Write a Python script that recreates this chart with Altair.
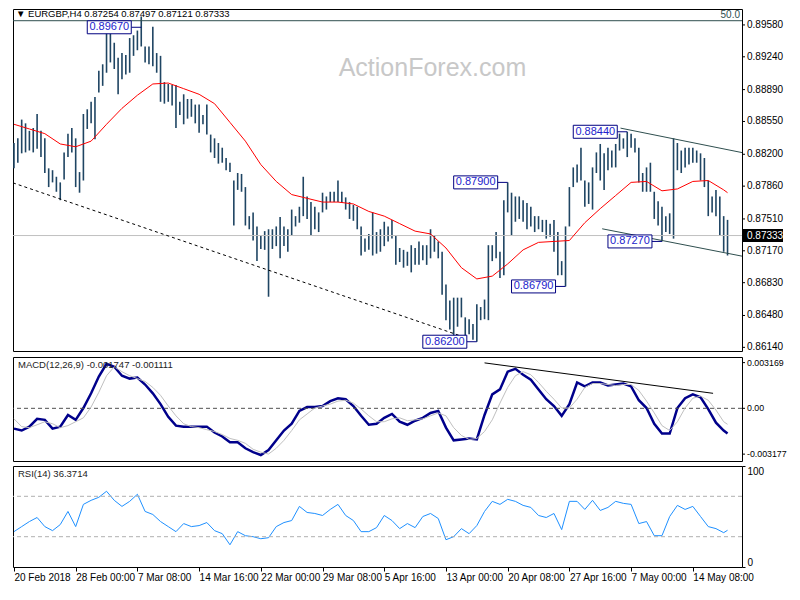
import altair as alt
import pandas as pd

F = "Liberation Sans"

# ---------------- price bars (H4, one bar drawn per 8 hours) ----------------
bar_high = [0.8832, 0.8837, 0.8857, 0.8853, 0.8845, 0.8848, 0.8863, 0.8845, 0.8837, 0.8805,
            0.8803, 0.8796, 0.8790, 0.8822, 0.8842, 0.8848, 0.8837, 0.8801, 0.8863, 0.8868,
            0.8876, 0.8881, 0.8909, 0.8916, 0.8951, 0.8949, 0.8939, 0.8923, 0.8928, 0.8926,
            0.8944, 0.8947, 0.8952, 0.8967, 0.8935, 0.8935, 0.8956, 0.8928, 0.8925, 0.8897,
            0.8895, 0.8894, 0.8894, 0.8876, 0.8884, 0.8879, 0.8879, 0.8873, 0.8873, 0.8862,
            0.8873, 0.8841, 0.8837, 0.8832, 0.8827, 0.8816, 0.8811, 0.8792, 0.8800, 0.8799,
            0.8785, 0.8754, 0.8758, 0.8743, 0.8733, 0.8738, 0.8740, 0.8740, 0.8743, 0.8753,
            0.8743, 0.8740, 0.8761, 0.8754, 0.8764, 0.8796, 0.8775, 0.8769, 0.8764, 0.8758,
            0.8779, 0.8775, 0.8780, 0.8780, 0.8792, 0.8780, 0.8774, 0.8769, 0.8766, 0.8764,
            0.8743, 0.8730, 0.8735, 0.8758, 0.8737, 0.8740, 0.8748, 0.8743, 0.8750, 0.8733,
            0.8720, 0.8718, 0.8716, 0.8723, 0.8720, 0.8727, 0.8723, 0.8723, 0.8740, 0.8733,
            0.8727, 0.8716, 0.8681, 0.8664, 0.8667, 0.8667, 0.8667, 0.8646, 0.8644, 0.8639,
            0.8660, 0.8657, 0.8665, 0.8723, 0.8723, 0.8737, 0.8716, 0.8771, 0.8790, 0.8779,
            0.8775, 0.8775, 0.8771, 0.8768, 0.8764, 0.8754, 0.8754, 0.8750, 0.8750, 0.8746,
            0.8750, 0.8737, 0.8706, 0.8743, 0.8785, 0.8806, 0.8809, 0.8827, 0.8792, 0.8790,
            0.8806, 0.8822, 0.8831, 0.8821, 0.8827, 0.8824, 0.8831, 0.8842, 0.8837, 0.8844,
            0.8842, 0.8837, 0.8827, 0.8800, 0.8806, 0.8811, 0.8780, 0.8770, 0.8764, 0.8754,
            0.8757, 0.8837, 0.8832, 0.8824, 0.8827, 0.8827, 0.8827, 0.8824, 0.8821, 0.8816,
            0.8792, 0.8775, 0.8782, 0.8775, 0.8754, 0.8750]
bar_low = [0.8805, 0.8811, 0.8821, 0.8822, 0.8824, 0.8822, 0.8826, 0.8817, 0.8800, 0.8785,
           0.8790, 0.8780, 0.8771, 0.8793, 0.8817, 0.8822, 0.8785, 0.8779, 0.8792, 0.8847,
           0.8853, 0.8836, 0.8886, 0.8893, 0.8907, 0.8918, 0.8911, 0.8884, 0.8900, 0.8905,
           0.8907, 0.8925, 0.8931, 0.8935, 0.8918, 0.8916, 0.8914, 0.8907, 0.8876, 0.8874,
           0.8876, 0.8872, 0.8848, 0.8862, 0.8852, 0.8858, 0.8860, 0.8853, 0.8843, 0.8852,
           0.8841, 0.8822, 0.8816, 0.8810, 0.8811, 0.8803, 0.8801, 0.8744, 0.8782, 0.8780,
           0.8744, 0.8740, 0.8728, 0.8706, 0.8719, 0.8718, 0.8668, 0.8719, 0.8722, 0.8709,
           0.8722, 0.8716, 0.8733, 0.8743, 0.8747, 0.8754, 0.8751, 0.8733, 0.8740, 0.8737,
           0.8758, 0.8761, 0.8769, 0.8769, 0.8769, 0.8768, 0.8761, 0.8751, 0.8749, 0.8740,
           0.8712, 0.8716, 0.8718, 0.8712, 0.8714, 0.8716, 0.8722, 0.8727, 0.8730, 0.8702,
           0.8705, 0.8699, 0.8701, 0.8694, 0.8702, 0.8702, 0.8707, 0.8702, 0.8709, 0.8716,
           0.8709, 0.8670, 0.8643, 0.8633, 0.8626, 0.8636, 0.8646, 0.8622, 0.8628, 0.8622,
           0.8620, 0.8643, 0.8644, 0.8643, 0.8706, 0.8709, 0.8688, 0.8691, 0.8758, 0.8733,
           0.8748, 0.8751, 0.8748, 0.8740, 0.8743, 0.8737, 0.8740, 0.8737, 0.8730, 0.8732,
           0.8716, 0.8691, 0.8691, 0.8679, 0.8743, 0.8785, 0.8790, 0.8792, 0.8764, 0.8767,
           0.8761, 0.8800, 0.8792, 0.8782, 0.8803, 0.8806, 0.8806, 0.8824, 0.8826, 0.8817,
           0.8827, 0.8822, 0.8790, 0.8780, 0.8780, 0.8780, 0.8751, 0.8744, 0.8727, 0.8737,
           0.8735, 0.8730, 0.8803, 0.8800, 0.8806, 0.8809, 0.8811, 0.8811, 0.8792, 0.8785,
           0.8754, 0.8758, 0.8754, 0.8733, 0.8716, 0.8712]
bar_k = list(range(len(bar_high)))

# moving average (red), one point every 4 drawn bars
ma_k = list(range(0, 185, 4)) + [185]
ma_val = [0.8852, 0.8847, 0.8842, 0.8831, 0.8828, 0.8834, 0.8852, 0.8869, 0.8883, 0.8895,
          0.8896, 0.8890, 0.8884, 0.8874, 0.8854, 0.8834, 0.8809, 0.8791, 0.8777, 0.8773,
          0.8769, 0.8769, 0.8767, 0.8759, 0.8754, 0.8746, 0.8738, 0.8735, 0.8720, 0.8699,
          0.8687, 0.8690, 0.8703, 0.8718, 0.8726, 0.8727, 0.8728, 0.8747, 0.8762, 0.8776,
          0.8790, 0.8791, 0.8781, 0.8783, 0.8791, 0.8792, 0.8782, 0.8779]

# indicators, one point every 2 drawn bars
ind_k = list(range(0, 185, 2)) + [185]
macd_val = [-0.00141, -0.00154, -0.00127, -0.00073, -0.00080, -0.00141, -0.00127, -0.00046, -0.00080, 0.00002,
            0.00104, 0.00220, 0.00308, 0.00288, 0.00226, 0.00206, 0.00213, 0.00165, 0.00104, 0.00029,
            -0.00059, -0.00120, -0.00127, -0.00127, -0.00127, -0.00127, -0.00168, -0.00195, -0.00236, -0.00236,
            -0.00277, -0.00304, -0.00324, -0.00290, -0.00222, -0.00154, -0.00107, -0.00018, 0.00009, 0.00009,
            0.00016, 0.00050, 0.00070, 0.00063, 0.00016, -0.00052, -0.00114, -0.00107, -0.00066, -0.00039,
            -0.00093, -0.00114, -0.00086, -0.00066, -0.00032, -0.00018, -0.00134, -0.00222, -0.00216, -0.00209,
            -0.00216, -0.00046, 0.00097, 0.00131, 0.00254, 0.00274, 0.00233, 0.00199, 0.00131, 0.00063,
            0.00016, -0.00052, 0.00029, 0.00179, 0.00152, 0.00179, 0.00179, 0.00158, 0.00165, 0.00172,
            0.00152, 0.00056, 0.00002, -0.00107, -0.00175, -0.00175, 0.00002, 0.00070, 0.00097, 0.00077,
            -0.00005, -0.00100, -0.00154, -0.00175]
signal_val = [-0.00073, -0.00127, -0.00134, -0.00114, -0.00093, -0.00107, -0.00134, -0.00120, -0.00093, -0.00066,
              0.00009, 0.00111, 0.00226, 0.00288, 0.00254, 0.00226, 0.00206, 0.00186, 0.00145, 0.00090,
              0.00016, -0.00052, -0.00107, -0.00127, -0.00134, -0.00148, -0.00161, -0.00182, -0.00209, -0.00222,
              -0.00243, -0.00284, -0.00304, -0.00317, -0.00277, -0.00222, -0.00154, -0.00080, -0.00039, 0.00002,
              0.00016, 0.00029, 0.00050, 0.00056, 0.00036, -0.00005, -0.00052, -0.00093, -0.00093, -0.00073,
              -0.00066, -0.00086, -0.00080, -0.00073, -0.00052, -0.00032, -0.00052, -0.00134, -0.00188, -0.00216,
              -0.00209, -0.00161, -0.00080, 0.00036, 0.00145, 0.00226, 0.00254, 0.00233, 0.00179, 0.00118,
              0.00063, 0.00002, 0.00002, 0.00063, 0.00145, 0.00172, 0.00172, 0.00165, 0.00158, 0.00165,
              0.00165, 0.00124, 0.00050, -0.00032, -0.00120, -0.00154, -0.00093, 0.00002, 0.00070, 0.00084,
              0.00056, -0.00012, -0.00093, -0.00111]
rsi_val = [35, 40, 45, 49, 40, 36, 42, 55, 40, 62,
           66, 69, 75, 66, 60, 65, 72, 55, 52, 45,
           40, 35, 43, 40, 41, 44, 36, 33, 22, 35,
           31, 30, 28, 29, 40, 44, 46, 60, 54, 53,
           51, 57, 62, 51, 46, 35, 35, 39, 51, 46,
           38, 43, 39, 50, 53, 48, 27, 30, 38, 33,
           41, 55, 65, 62, 67, 65, 61, 59, 51, 49,
           53, 37, 65, 65, 57, 66, 56, 59, 65, 63,
           62, 43, 45, 31, 31, 50, 61, 57, 60, 50,
           40, 38, 34, 36.37]

# annotations (swing highs / lows): anchor bar, price, label level for the box
ann_k = [33, 128, 143, 120, 159, 168]
ann_price = [0.8967, 0.8790, 0.8679, 0.8620, 0.8844, 0.8727]
ann_box_p = [0.89555, 0.8790, 0.8679, 0.8620, 0.8844, 0.8727]
ann_text = ["0.89670", "0.87900", "0.86790", "0.86200", "0.88440", "0.87270"]

# drawn lines
trend_k = [-0.25, 116.75]
trend_p = [0.87895, 0.86249]
chan_up_k = [157.25, 188.75]
chan_up_p = [0.88479, 0.88218]
chan_lo_k = [152.5, 188.75]
chan_lo_p = [0.87405, 0.87113]
macd_tl_k = [122, 181.25]
macd_tl_v = [0.00315, 0.00104]
fib_level = 0.89625
last_close = 0.87333

price_ticks = [0.8958, 0.8924, 0.8889, 0.8855, 0.8820, 0.8786, 0.8751, 0.8717, 0.8683, 0.8648, 0.8614]
price_tick_labels = ["0.89580", "0.89240", "0.88890", "0.88550", "0.88200", "0.87860",
                     "0.87510", "0.87170", "0.86830", "0.86480", "0.86140"]
macd_ticks = [0.003169, 0.0, -0.003177]
macd_tick_labels = ["0.003169", "0.00", "-0.003177"]
rsi_ticks = [100, 70, 30, 0]
time_tick_k = [0, 16, 32, 48, 64, 80, 96, 112, 128, 144, 160, 176]
time_labels = ["20 Feb 2018", "28 Feb 00:00", "7 Mar 08:00", "14 Mar 16:00", "22 Mar 00:00",
               "29 Mar 08:00", "5 Apr 16:00", "13 Apr 00:00", "20 Apr 08:00", "27 Apr 16:00",
               "7 May 00:00", "14 May 08:00"]

header = "▼ EURGBP,H4  0.87254 0.87497 0.87121 0.87333"
macd_title = "MACD(12,26,9) -0.001747 -0.001111"
rsi_title = "RSI(14) 36.3714"

# ---------------- build ----------------
W = 729
XMIN, XMAX = -0.25, 188.75
PMIN, PMAX = 0.86101, 0.8975
MMIN, MMAX = -0.003653, 0.003558
BAR = "#1f4563"

xs = alt.Scale(domain=[XMIN, XMAX], nice=False, zero=False)
ys = alt.Scale(domain=[PMIN, PMAX], nice=False, zero=False)
ms = alt.Scale(domain=[MMIN, MMAX], nice=False, zero=False)
rs = alt.Scale(domain=[0, 100], nice=False, zero=False)


def X(f="k"):
    return alt.X(f + ":Q", scale=xs)


def Y(f, scale):
    return alt.Y(f + ":Q", scale=scale)


def side_labels(values, labels, scale, size):
    """Right-hand value labels with small tick marks, placed through the scales."""
    df = pd.DataFrame({"k": [XMAX] * len(values), "v": values, "t": labels})
    ticks = alt.Chart(df).mark_rule(color="black", strokeWidth=1, x2Offset=3).encode(
        x=X(), x2="k:Q", y=Y("v", scale))
    txt = alt.Chart(df).mark_text(align="left", baseline="middle", dx=5, font=F,
                                  fontSize=size, color="black").encode(
        x=X(), y=Y("v", scale), text="t:N")
    return ticks, txt


bars_df = pd.DataFrame({"k": bar_k, "high": bar_high, "low": bar_low})
ma_df = pd.DataFrame({"k": ma_k, "ma": ma_val})
ann_df = pd.DataFrame({"k": ann_k, "p": ann_price, "bp": ann_box_p, "label": ann_text})
ind_df = pd.DataFrame({"k": ind_k, "macd": macd_val, "signal": signal_val, "rsi": rsi_val})

bars = alt.Chart(bars_df).mark_rule(color=BAR, strokeWidth=1.6).encode(
    x=alt.X("k:Q", scale=xs, axis=None),
    y=alt.Y("low:Q", scale=ys, axis=None),
    y2="high:Q",
)

fib = alt.Chart(pd.DataFrame({"p": [fib_level]})).mark_rule(color="#2f4f4f", strokeWidth=1).encode(
    y=Y("p", ys))
fib_lbl = alt.Chart(pd.DataFrame({"k": [XMAX], "p": [fib_level], "t": ["50.0"]})).mark_text(
    align="right", baseline="bottom", dx=-2, dy=-1, font=F, fontSize=10, color="#2f4f4f"
).encode(x=X(), y=Y("p", ys), text="t:N")

cur = alt.Chart(pd.DataFrame({"p": [last_close]})).mark_rule(color="#c0c0c0", strokeWidth=1).encode(
    y=Y("p", ys))

ma = alt.Chart(ma_df).mark_line(color="#ff0000", strokeWidth=1).encode(x=X(), y=Y("ma", ys))


def seg(ks, ps, color, dash=None):
    df = pd.DataFrame({"k": ks, "p": ps})
    if dash:
        m = alt.Chart(df).mark_line(color=color, strokeWidth=1, strokeDash=dash)
    else:
        m = alt.Chart(df).mark_line(color=color, strokeWidth=1)
    return m.encode(x=X(), y=Y("p", ys))


trend = seg(trend_k, trend_p, "black", [3, 3])
chan_up = seg(chan_up_k, chan_up_p, "#2f4f4f")
chan_lo = seg(chan_lo_k, chan_lo_p, "#2f4f4f")

conn = alt.Chart(ann_df).mark_rule(color="#000080", strokeWidth=1, xOffset=-10).encode(
    x=X(), x2="k:Q", y=Y("bp", ys))
box = alt.Chart(ann_df).mark_rect(fill="white", stroke="#000080", strokeWidth=1,
                                  xOffset=-54, x2Offset=-10, yOffset=-6.5, y2Offset=6.5).encode(
    x=X(), x2="k:Q", y=Y("bp", ys), y2="bp:Q")
box_txt = alt.Chart(ann_df).mark_text(dx=-32, font=F, fontSize=11, color="#2222cc").encode(
    x=X(), y=Y("bp", ys), text="label:N")

hdr = alt.Chart(pd.DataFrame({"k": [XMIN], "p": [PMAX], "t": [header]})).mark_text(
    align="left", baseline="top", dx=3, dy=0, font=F, fontSize=9.5, color="black"
).encode(x=X(), y=Y("p", ys), text="t:N")

wm = alt.Chart(pd.DataFrame({"k": [108.5], "p": [0.8912], "t": ["ActionForex.com"]})).mark_text(
    font=F, fontSize=25, color="#c8c8c8"
).encode(x=X(), y=Y("p", ys), text="t:N")

p_ticks, p_txt = side_labels(price_ticks, price_tick_labels, ys, 10)

last_df = pd.DataFrame({"k": [XMAX], "p": [last_close], "t": ["0.87333"]})
last_box = alt.Chart(last_df).mark_rect(
    fill="black", xOffset=1, x2Offset=41, yOffset=-6.5, y2Offset=6.5
).encode(x=X(), x2="k:Q", y=Y("p", ys), y2="p:Q")
last_txt = alt.Chart(last_df).mark_text(
    align="left", dx=5, font=F, fontSize=10, color="white"
).encode(x=X(), y=Y("p", ys), text="t:N")

main = alt.layer(bars, wm, cur, fib, fib_lbl, trend, chan_up, chan_lo, ma, conn, box, box_txt,
                 hdr, p_ticks, p_txt, last_box, last_txt).properties(width=W, height=342)

# ---------------- MACD ----------------
macd_line = alt.Chart(ind_df).mark_line(color="#00008b", strokeWidth=2.5).encode(
    x=alt.X("k:Q", scale=xs, axis=None), y=alt.Y("macd:Q", scale=ms, axis=None))
zero = alt.Chart(pd.DataFrame({"v": [0.0]})).mark_rule(color="#505050", strokeDash=[4, 3]).encode(
    y=Y("v", ms))
sig_line = alt.Chart(ind_df).mark_line(color="#c0c0c0", strokeWidth=1).encode(
    x=X(), y=Y("signal", ms))
macd_tl = alt.Chart(pd.DataFrame({"k": macd_tl_k, "v": macd_tl_v})).mark_line(
    color="black", strokeWidth=1).encode(x=X(), y=Y("v", ms))
macd_hdr = alt.Chart(pd.DataFrame({"k": [XMIN], "v": [MMAX], "t": [macd_title]})).mark_text(
    align="left", baseline="top", dx=5, dy=3, font=F, fontSize=9.5, color="#222222"
).encode(x=X(), y=Y("v", ms), text="t:N")
m_ticks, m_txt = side_labels(macd_ticks, macd_tick_labels, ms, 8.8)
macd = alt.layer(macd_line, zero, sig_line, macd_tl, macd_hdr, m_ticks, m_txt).properties(
    width=W, height=104)

# ---------------- RSI ----------------
rsi_axis = alt.Axis(orient="right", values=rsi_ticks, title=None, grid=False, domain=False,
                    tickSize=3, labelPadding=2, labelFlush=True, labelOverlap=False)
time_axis = alt.Axis(values=time_tick_k, title=None, grid=False, domain=False, tickSize=4,
                     labelPadding=1, labelAlign="left", labelOverlap=False,
                     labelExpr="%s[round(datum.value/16)]" % str(time_labels))
rsi_line = alt.Chart(ind_df).mark_line(color="#1e90ff", strokeWidth=1).encode(
    x=alt.X("k:Q", scale=xs, axis=time_axis), y=alt.Y("rsi:Q", scale=rs, axis=rsi_axis))
lv = alt.Chart(pd.DataFrame({"v": [70, 30]})).mark_rule(color="#b0b0b0", strokeDash=[4, 3]).encode(
    y=Y("v", rs))
rsi_hdr = alt.Chart(pd.DataFrame({"k": [XMIN], "v": [100], "t": [rsi_title]})).mark_text(
    align="left", baseline="top", dx=5, dy=3, font=F, fontSize=9.5, color="#222222"
).encode(x=X(), y=Y("v", rs), text="t:N")
rsi = alt.layer(rsi_line, lv, rsi_hdr).properties(width=W, height=101)

chart = alt.vconcat(main, macd, rsi, spacing=3).properties(
    padding=0, background="white"
).configure(padding=0).configure_view(stroke="black", strokeWidth=1).configure_axis(
    labelFont=F, labelFontSize=10, labelColor="black", tickColor="black"
)

chart.save("out.html", embed_options={"renderer": "svg", "actions": False})
